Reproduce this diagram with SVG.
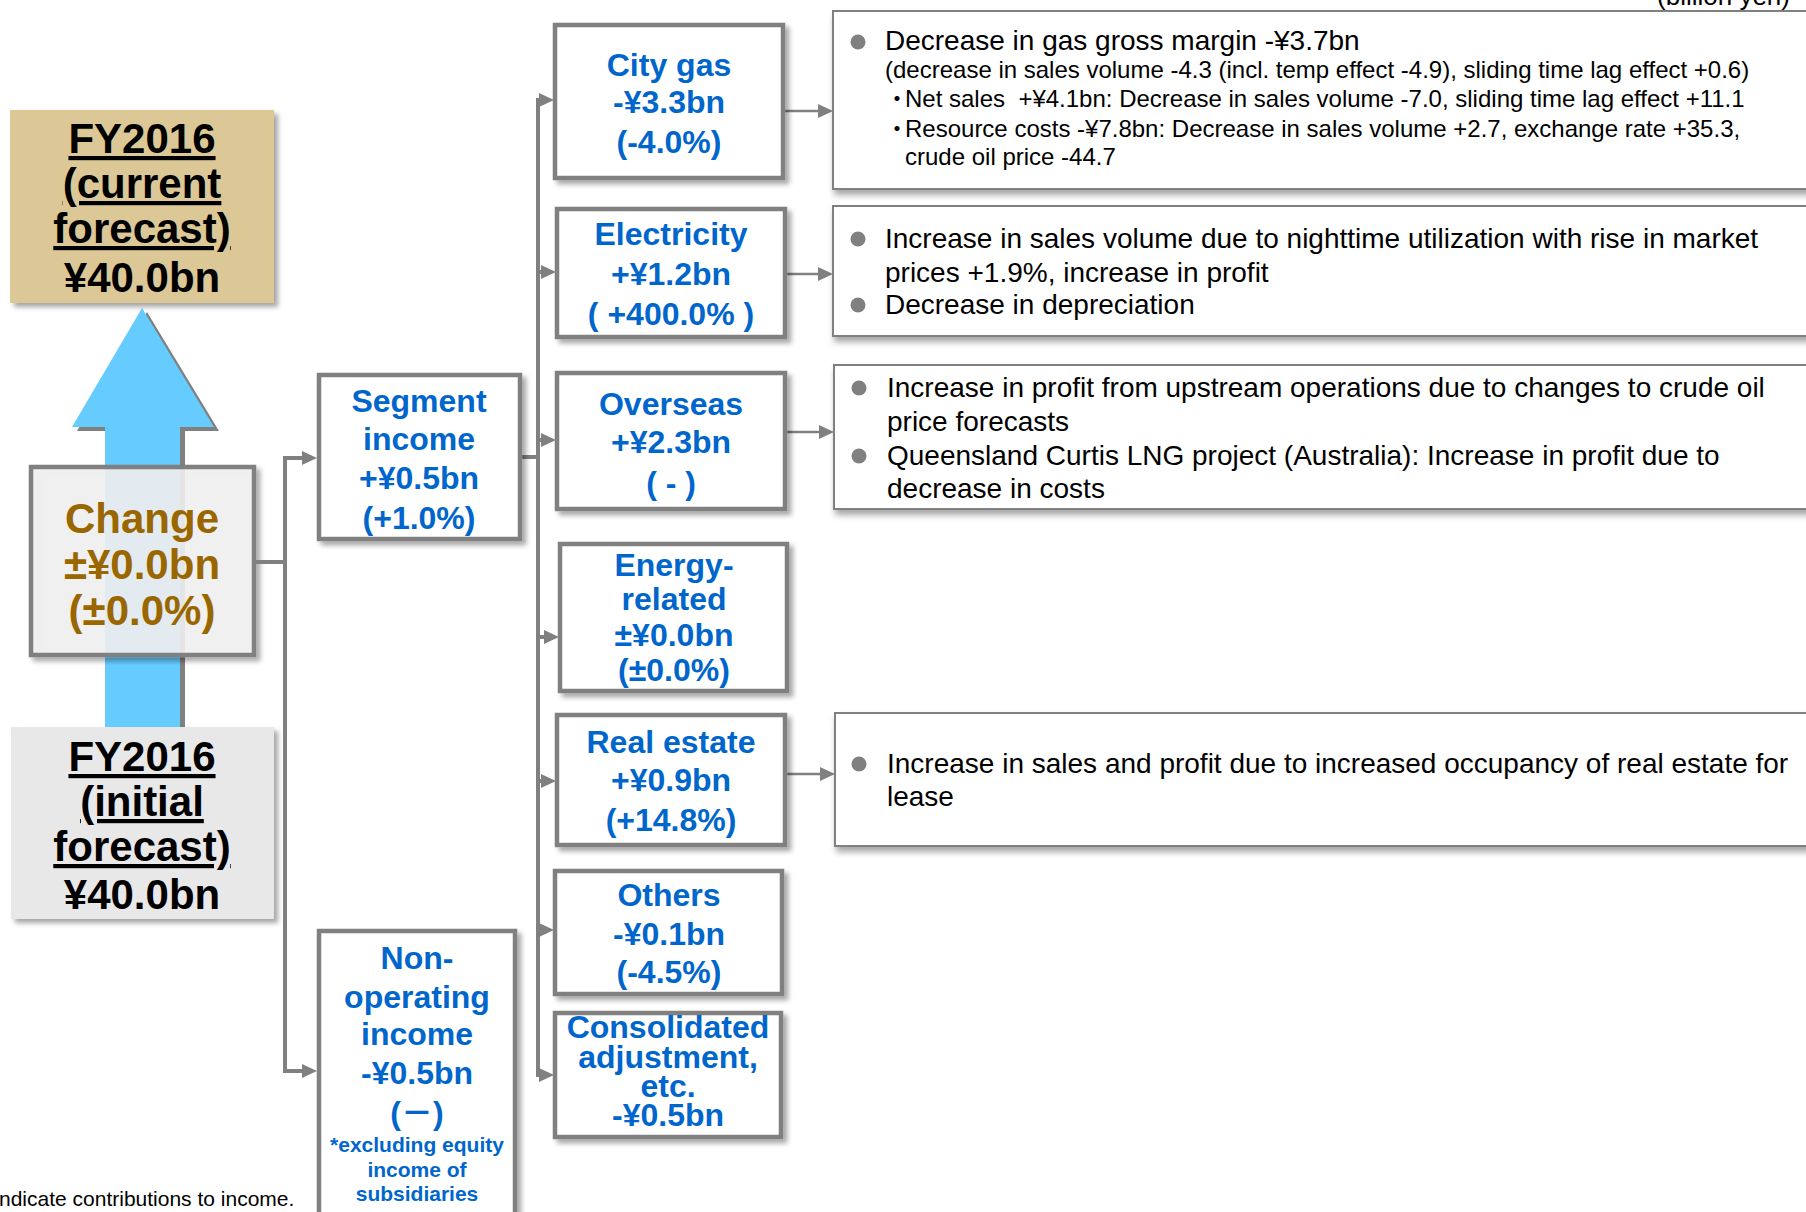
<svg xmlns="http://www.w3.org/2000/svg" width="1806" height="1212" viewBox="0 0 1806 1212">
<defs>
<filter id="sh" x="-10%" y="-10%" width="130%" height="130%">
<feDropShadow dx="4" dy="4" stdDeviation="2.5" flood-color="#000" flood-opacity="0.35"/>
</filter>
<filter id="sh2" x="-5%" y="-10%" width="115%" height="130%">
<feDropShadow dx="2" dy="5" stdDeviation="3" flood-color="#000" flood-opacity="0.35"/>
</filter>
<marker id="ah" markerUnits="userSpaceOnUse" markerWidth="15" markerHeight="14" viewBox="0 0 15 14" refX="0" refY="7" orient="auto">
<path d="M0,0 L15,7 L0,14 z" fill="#808080"/>
</marker>
<style>
.bx{fill:#fff;stroke:#808080;stroke-width:4.5;filter:url(#sh)}
.db{fill:#fff;stroke:#808080;stroke-width:2;filter:url(#sh2)}
.bt{font-family:"Liberation Sans","Noto Sans CJK JP",sans-serif;font-weight:bold;font-size:32px;fill:#0066CC;text-anchor:middle}
.sm{font-size:21px}
.big{font-family:"Liberation Sans","Noto Sans CJK JP",sans-serif;font-weight:bold;font-size:42px;text-anchor:middle}
.ul{text-decoration:underline}
.dt{font-family:"Liberation Sans","Noto Sans CJK JP",sans-serif;font-size:28px;fill:#000;white-space:pre}
.ds{font-size:24px}
.bul{fill:#808080}
.cn{stroke:#808080;stroke-width:4;fill:none}
.cd{stroke:#808080;stroke-width:2.5;fill:none}
</style>
</defs>
<rect width="1806" height="1212" fill="#fff"/>

<g id="big-arrow">
<polygon points="147,312 219,431 185,431 185,731 110,731 110,431 77,431" fill="#808080"/>
<polygon points="142,308 214,427 180,427 180,727 105,727 105,427 72,427" fill="#66CCFF"/>
</g>

<g id="fy-current">
<rect x="10" y="110" width="264" height="193" fill="#DCC896" filter="url(#sh)"/>
<text class="big ul" x="142" y="153">FY2016</text>
<text class="big ul" x="142" y="198">(current</text>
<text class="big ul" x="142" y="243">forecast)</text>
<text class="big" x="142" y="292">¥40.0bn</text>
</g>

<g id="fy-initial">
<rect x="11" y="727" width="263" height="192" fill="#E8E8E8" filter="url(#sh)"/>
<text class="big ul" x="142" y="771">FY2016</text>
<text class="big ul" x="142" y="816">(initial</text>
<text class="big ul" x="142" y="861">forecast)</text>
<text class="big" x="142" y="909">¥40.0bn</text>
</g>

<g id="change">
<rect x="31" y="467" width="223" height="188" fill="#F2F2F2" fill-opacity="0.88" stroke="#808080" stroke-width="4.5" filter="url(#sh)"/>
<text class="big" x="142" y="533" fill="#996600">Change</text>
<text class="big" x="142" y="579" fill="#996600">±¥0.0bn</text>
<text class="big" x="142" y="625" fill="#996600">(±0.0%)</text>
</g>

<g id="connectors">
<path class="cn" d="M256,562 H285"/>
<path class="cn" d="M285,456 V1073"/>
<path class="cn" d="M283,458 H302" marker-end="url(#ah)"/>
<path class="cn" d="M283,1071 H302" marker-end="url(#ah)"/>
<path class="cn" d="M522,457 H540"/>
<path class="cn" d="M538,98 V1077"/>
<path class="cn" d="M536,100 H539" marker-end="url(#ah)"/>
<path class="cn" d="M536,272 H541" marker-end="url(#ah)"/>
<path class="cn" d="M536,440 H541" marker-end="url(#ah)"/>
<path class="cn" d="M536,637 H544" marker-end="url(#ah)"/>
<path class="cn" d="M536,781 H541" marker-end="url(#ah)"/>
<path class="cn" d="M536,930 H539" marker-end="url(#ah)"/>
<path class="cn" d="M536,1075 H539" marker-end="url(#ah)"/>
<path class="cd" d="M785,111 H818" marker-end="url(#ah)"/>
<path class="cd" d="M787,274 H818" marker-end="url(#ah)"/>
<path class="cd" d="M787,432 H819" marker-end="url(#ah)"/>
<path class="cd" d="M787,774 H820" marker-end="url(#ah)"/>
</g>

<g id="segment">
<rect class="bx" x="319" y="375" width="201" height="164"/>
<text class="bt" x="419" y="412">Segment</text>
<text class="bt" x="419" y="450">income</text>
<text class="bt" x="419" y="489">+¥0.5bn</text>
<text class="bt" x="419" y="529">(+1.0%)</text>
</g>

<g id="nonop">
<rect class="bx" x="319" y="931" width="196" height="300"/>
<text class="bt" x="417" y="969">Non-</text>
<text class="bt" x="417" y="1008">operating</text>
<text class="bt" x="417" y="1045">income</text>
<text class="bt" x="417" y="1084">-¥0.5bn</text>
<text class="bt" x="417" y="1124">(－)</text>
<text class="bt sm" x="417" y="1152">*excluding equity</text>
<text class="bt sm" x="417" y="1177">income of</text>
<text class="bt sm" x="417" y="1201">subsidiaries</text>
</g>

<g id="citygas">
<rect class="bx" x="555" y="25" width="228" height="153"/>
<text class="bt" x="669" y="76">City gas</text>
<text class="bt" x="669" y="113">-¥3.3bn</text>
<text class="bt" x="669" y="153">(-4.0%)</text>
</g>

<g id="electricity">
<rect class="bx" x="557" y="209" width="228" height="128"/>
<text class="bt" x="671" y="245">Electricity</text>
<text class="bt" x="671" y="285">+¥1.2bn</text>
<text class="bt" x="671" y="325" style="white-space:pre">( +400.0% )</text>
</g>

<g id="overseas">
<rect class="bx" x="557" y="373" width="228" height="136"/>
<text class="bt" x="671" y="415">Overseas</text>
<text class="bt" x="671" y="453">+¥2.3bn</text>
<text class="bt" x="671" y="494" style="white-space:pre">( - )</text>
</g>

<g id="energy">
<rect class="bx" x="560" y="544" width="227" height="147"/>
<text class="bt" x="674" y="576">Energy-</text>
<text class="bt" x="674" y="610">related</text>
<text class="bt" x="674" y="646">±¥0.0bn</text>
<text class="bt" x="674" y="681">(±0.0%)</text>
</g>

<g id="realestate">
<rect class="bx" x="557" y="715" width="228" height="130"/>
<text class="bt" x="671" y="753">Real estate</text>
<text class="bt" x="671" y="791">+¥0.9bn</text>
<text class="bt" x="671" y="831">(+14.8%)</text>
</g>

<g id="others">
<rect class="bx" x="555" y="871" width="227" height="123"/>
<text class="bt" x="669" y="906">Others</text>
<text class="bt" x="669" y="945">-¥0.1bn</text>
<text class="bt" x="669" y="983">(-4.5%)</text>
</g>

<g id="consolidated">
<rect class="bx" x="555" y="1013" width="226" height="124"/>
<text class="bt" x="668" y="1038">Consolidated</text>
<text class="bt" x="668" y="1068">adjustment,</text>
<text class="bt" x="668" y="1097">etc.</text>
<text class="bt" x="668" y="1126">-¥0.5bn</text>
</g>

<g id="detail-citygas">
<rect class="db" x="833" y="11" width="1000" height="178"/>
<circle class="bul" cx="858" cy="42" r="7.5"/>
<text class="dt" x="885" y="50">Decrease in gas gross margin -¥3.7bn</text>
<text class="dt ds" x="885" y="78">(decrease in sales volume -4.3 (incl. temp effect -4.9), sliding time lag effect +0.6)</text>
<text class="dt ds" x="885" y="107">・<tspan x="905">Net sales  +¥4.1bn: Decrease in sales volume -7.0, sliding time lag effect +11.1</tspan></text>
<text class="dt ds" x="885" y="137">・<tspan x="905">Resource costs -¥7.8bn: Decrease in sales volume +2.7, exchange rate +35.3,</tspan></text>
<text class="dt ds" x="905" y="165">crude oil price -44.7</text>
</g>

<g id="detail-electricity">
<rect class="db" x="833" y="206" width="1000" height="130"/>
<circle class="bul" cx="858" cy="239" r="7.5"/>
<text class="dt" x="885" y="248">Increase in sales volume due to nighttime utilization with rise in market</text>
<text class="dt" x="885" y="282">prices +1.9%, increase in profit</text>
<circle class="bul" cx="858" cy="305" r="7.5"/>
<text class="dt" x="885" y="314">Decrease in depreciation</text>
</g>

<g id="detail-overseas">
<rect class="db" x="834" y="365" width="1000" height="144"/>
<circle class="bul" cx="859" cy="388" r="7.5"/>
<text class="dt" x="887" y="397">Increase in profit from upstream operations due to changes to crude oil</text>
<text class="dt" x="887" y="431">price forecasts</text>
<circle class="bul" cx="859" cy="456" r="7.5"/>
<text class="dt" x="887" y="465">Queensland Curtis LNG project (Australia): Increase in profit due to</text>
<text class="dt" x="887" y="498">decrease in costs</text>
</g>

<g id="detail-realestate">
<rect class="db" x="835" y="713" width="1000" height="133"/>
<circle class="bul" cx="859" cy="764" r="7.5"/>
<text class="dt" x="887" y="773">Increase in sales and profit due to increased occupancy of real estate for</text>
<text class="dt" x="887" y="806">lease</text>
</g>

<text class="dt" x="1790" y="5" style="font-size:26px;text-anchor:end">(billion yen)</text>
<text class="dt" x="-1" y="1206" style="font-size:21px">ndicate contributions to income.</text>
</svg>
